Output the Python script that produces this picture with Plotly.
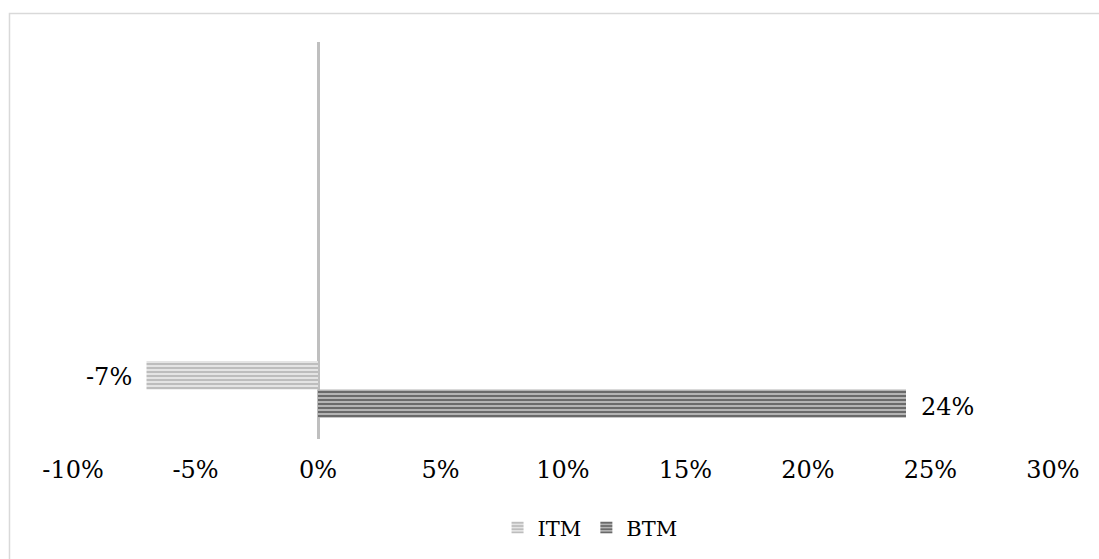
import plotly.graph_objects as go

# Category slots on the vertical axis (only the first one carries values)
categories = ["c1", "c2", "c3", "c4"]
itm_values = [-7, None, None, None]
btm_values = [24, None, None, None]

tick_values = [-10, -5, 0, 5, 10, 15, 20, 25, 30]
tick_labels = ["-10%", "-5%", "0%", "5%", "10%", "15%", "20%", "25%", "30%"]

FONT = "DejaVu Serif"


def pct(v):
    return f"{v}%"


fig = go.Figure()

# BTM added first so that it sits below ITM inside the group
fig.add_trace(go.Bar(
    name="BTM", y=categories, x=btm_values, orientation="h",
    legendrank=2,
    marker=dict(
        color="#b4b4b4",
        line=dict(width=0),
        pattern=dict(shape="-", size=4, solidity=0.5,
                     fgcolor="#6a6a6a", bgcolor="#b4b4b4", fillmode="replace"),
    ),
))
fig.add_trace(go.Bar(
    name="ITM", y=categories, x=itm_values, orientation="h",
    legendrank=1,
    marker=dict(
        color="#e4e4e4",
        line=dict(width=0),
        pattern=dict(shape="-", size=4, solidity=0.5,
                     fgcolor="#bdbdbd", bgcolor="#e4e4e4", fillmode="replace"),
    ),
))

# Value labels placed just beyond the end of each bar
annotations = []
for cat, v in zip(categories, itm_values):
    if v is not None:
        annotations.append(dict(
            x=v, y=cat, yshift=12, text=pct(v), showarrow=False,
            xanchor="right", xshift=-13, font=dict(family=FONT, size=24, color="#000000"),
        ))
for cat, v in zip(categories, btm_values):
    if v is not None:
        annotations.append(dict(
            x=v, y=cat, yshift=-18, text=pct(v), showarrow=False,
            xanchor="left", xshift=13, font=dict(family=FONT, size=24, color="#000000"),
        ))

fig.update_layout(
    width=1099, height=559,
    margin=dict(l=73, r=46, t=42, b=119),
    paper_bgcolor="#ffffff", plot_bgcolor="#ffffff",
    barmode="group", bargap=0.427, bargroupgap=0,
    font=dict(family=FONT, size=24, color="#000000"),
    showlegend=True,
    legend=dict(
        orientation="h", x=0.5276, xanchor="center", y=-0.221, yanchor="middle",
        font=dict(family=FONT, size=21, color="#000000"),
        itemwidth=30, tracegroupgap=0,
    ),
    annotations=annotations,
    xaxis=dict(
        range=[-10, 30], tickmode="array", tickvals=tick_values, ticktext=tick_labels,
        showgrid=False, showline=False, ticks="", ticklabelstandoff=14,
        zeroline=True, zerolinecolor="#bfbfbf", zerolinewidth=3,
        layer="above traces",
        tickfont=dict(family=FONT, size=24, color="#000000"),
    ),
    yaxis=dict(
        categoryorder="array", categoryarray=categories,
        range=[-0.5, 3.5], showticklabels=False, showgrid=False,
        showline=False, zeroline=False, ticks="",
    ),
    shapes=[dict(
        type="rect", xref="paper", yref="paper",
        x0=-0.0648, x1=1.2, y0=-0.6, y1=1.0716,
        line=dict(color="#d9d9d9", width=1.5), fillcolor="rgba(0,0,0,0)",
        layer="below",
    )],
)

fig.write_html("out.html")
